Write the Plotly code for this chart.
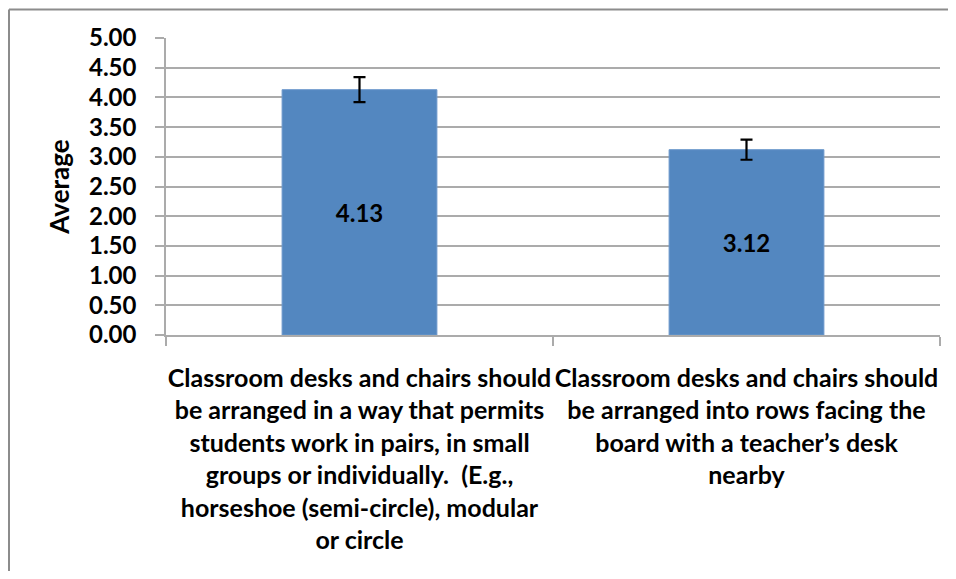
import plotly.graph_objects as go

categories = [
    "Classroom desks and chairs should<br>be arranged in a way that permits<br>students work in pairs, in small<br>"
    "groups or individually.  (E.g.,<br>horseshoe (semi-circle), modular<br>or circle",
    "Classroom desks and chairs should<br>be arranged into rows facing the<br>board with a teacher’s desk<br>nearby",
]
averages = [4.13, 3.12]
errors = [0.21, 0.17]
value_labels = ["4.13", "3.12"]
y_ticks = [0, 0.5, 1, 1.5, 2, 2.5, 3, 3.5, 4, 4.5, 5]

FONT = "Lato"
GRID = "#ABABAB"

# the page body adds an 8px margin, so the figure is drawn smaller to avoid scrollbars
W, H = 948, 563
L, R, T, B = 158, 16, 30, 236

fig = go.Figure(go.Bar(
    x=categories, y=averages,
    width=0.4,
    marker=dict(color="#5387C0", line=dict(color="#6C98CB", width=1)),
    text=value_labels,
    textposition="inside",
    insidetextanchor="middle",
    textangle=0,
    textfont=dict(family=FONT, size=24, color="black", weight="bold"),
    error_y=dict(type="data", array=errors, color="black", thickness=2.2, width=6),
    hoverinfo="skip",
))

fig.update_layout(
    width=W, height=H,
    margin=dict(l=L, r=R, t=T, b=B, autoexpand=False),
    plot_bgcolor="white", paper_bgcolor="white",
    showlegend=False,
    font=dict(family=FONT, color="black"),
)
fig.update_yaxes(
    range=[0, 5], tickvals=y_ticks, tickformat=".2f",
    showgrid=True, gridcolor=GRID, gridwidth=1.5,
    showline=True, linecolor=GRID, linewidth=1.5,
    ticks="outside", ticklen=9, tickcolor=GRID, tickwidth=1.5,
    ticklabelstandoff=14,
    tickfont=dict(family=FONT, size=24, weight="bold"),
    title=dict(text="Average", standoff=12,
               font=dict(family=FONT, size=26, weight="bold")),
    zeroline=False,
)
fig.update_xaxes(
    showline=True, linecolor=GRID, linewidth=1.5,
    ticks="outside", tickson="boundaries", ticklen=9, tickcolor=GRID, tickwidth=1.5,
    tickangle=0,
    ticklabelstandoff=20,
    tickfont=dict(family=FONT, size=25, weight="bold"),
)

# chart-area frame; only its top and left edges fall inside the picture
pw, ph = W - L - R, H - T - B
x_left = (1 - L) / pw
x_right = (W + 20 - L) / pw
y_top = (ph + T - 1.5) / ph
y_bottom = -(B + 20) / ph
frame = dict(color="#8C8C8C", width=2)
fig.add_shape(type="line", xref="paper", yref="paper",
              x0=x_left, x1=x_right, y0=y_top, y1=y_top, line=frame, layer="below")
fig.add_shape(type="line", xref="paper", yref="paper",
              x0=x_left, x1=x_left, y0=y_top, y1=y_bottom, line=frame, layer="below")

fig.write_html("out.html")
